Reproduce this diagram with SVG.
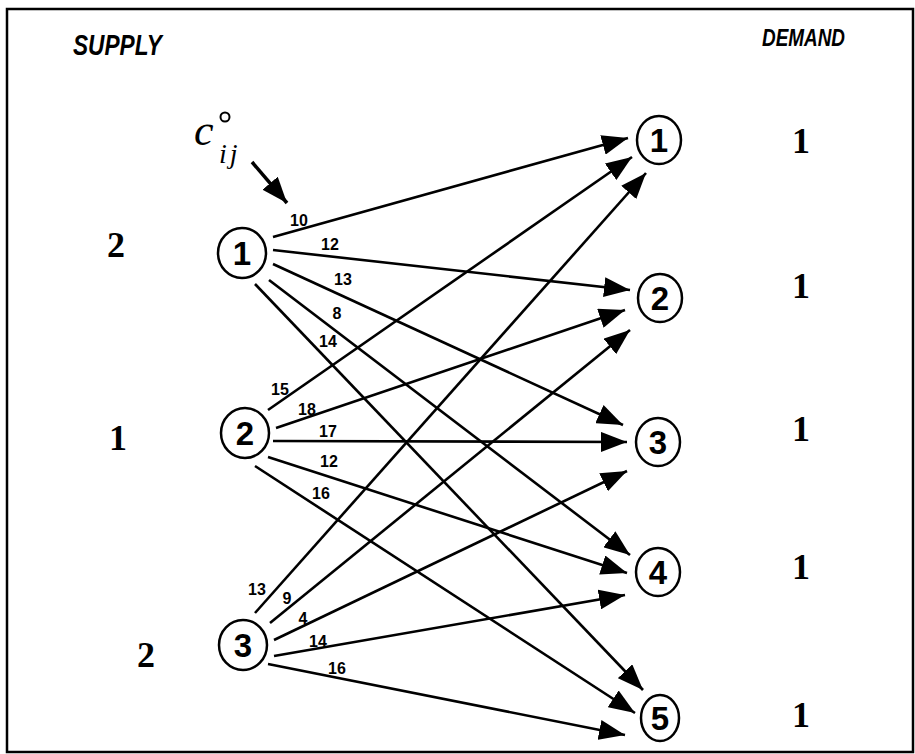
<svg xmlns="http://www.w3.org/2000/svg" width="915" height="754" viewBox="0 0 915 754">
<style>
.node ellipse{fill:#fff;stroke:#000;stroke-width:2.5}
.node text{font-family:"Liberation Sans",Arial,sans-serif;font-weight:bold;font-size:33px;text-anchor:middle}
.edge{stroke:#000;stroke-width:2.6;fill:none;marker-end:url(#ah)}
.lbl{font-family:"Liberation Sans",Arial,sans-serif;font-size:16px;font-weight:bold;text-anchor:middle}
.val{font-family:"Liberation Serif","Times New Roman",serif;font-weight:bold;font-size:36px;text-anchor:middle}
.hdr{font-family:"Liberation Sans",Arial,sans-serif;font-weight:bold;font-style:italic}
.note{font-family:"Liberation Serif","Times New Roman",serif;font-style:italic}
</style>
<defs>
<marker id="ah" markerUnits="userSpaceOnUse" viewBox="0 0 26 20" refX="26" refY="10" markerWidth="26" markerHeight="20" orient="auto">
<path d="M0,0 L26,10 L0,20 Z" fill="#000"/>
</marker>
</defs>
<rect x="0" y="0" width="915" height="754" fill="#fff"/>
<rect x="7" y="9" width="906" height="743" fill="none" stroke="#000" stroke-width="2.5"/>
<text class="hdr" x="73" y="55" font-size="29" textLength="89" lengthAdjust="spacingAndGlyphs">SUPPLY</text>
<text class="hdr" x="762" y="46" font-size="23" textLength="83" lengthAdjust="spacingAndGlyphs">DEMAND</text>
<g id="supply-values">
<text class="val" x="116" y="257">2</text>
<text class="val" x="118" y="450">1</text>
<text class="val" x="146" y="667">2</text>
</g>
<g id="demand-values">
<text class="val" x="801" y="153">1</text>
<text class="val" x="801" y="298">1</text>
<text class="val" x="801" y="441">1</text>
<text class="val" x="801" y="579">1</text>
<text class="val" x="801" y="727">1</text>
</g>
<g id="cost-note">
<text class="note" font-size="44" x="194" y="145">c</text>
<circle cx="225" cy="117" r="4.5" fill="none" stroke="#000" stroke-width="2"/>
<text class="note" font-size="28" x="219" y="163" letter-spacing="3">ij</text>
<line x1="252" y1="162" x2="287" y2="203" stroke="#000" stroke-width="3.5" marker-end="url(#ah)"/>
</g>
<g id="connectors">
<line class="edge" x1="273" y1="237" x2="628" y2="138"/>
<line class="edge" x1="273" y1="250" x2="630" y2="290"/>
<line class="edge" x1="273" y1="264" x2="623" y2="425"/>
<line class="edge" x1="269" y1="280" x2="630" y2="555"/>
<line class="edge" x1="255" y1="284" x2="643" y2="690"/>
<line class="edge" x1="268" y1="410" x2="632" y2="157"/>
<line class="edge" x1="276" y1="428" x2="625" y2="310"/>
<line class="edge" x1="273" y1="441" x2="627" y2="442"/>
<line class="edge" x1="268" y1="457" x2="627" y2="573"/>
<line class="edge" x1="255" y1="466" x2="635" y2="713"/>
<line class="edge" x1="255" y1="613" x2="646" y2="173"/>
<line class="edge" x1="270" y1="623" x2="630" y2="330"/>
<line class="edge" x1="274" y1="640" x2="627" y2="471"/>
<line class="edge" x1="274" y1="656" x2="625" y2="595"/>
<line class="edge" x1="268" y1="664" x2="625" y2="735"/>
<text class="lbl" x="299" y="226">10</text>
<text class="lbl" x="330" y="250">12</text>
<text class="lbl" x="343" y="285">13</text>
<text class="lbl" x="337" y="319">8</text>
<text class="lbl" x="328" y="347">14</text>
<text class="lbl" x="280" y="395">15</text>
<text class="lbl" x="307" y="415">18</text>
<text class="lbl" x="328" y="437">17</text>
<text class="lbl" x="329" y="467">12</text>
<text class="lbl" x="321" y="499">16</text>
<text class="lbl" x="257" y="595">13</text>
<text class="lbl" x="287" y="604">9</text>
<text class="lbl" x="303" y="624">4</text>
<text class="lbl" x="318" y="647">14</text>
<text class="lbl" x="337" y="674">16</text>
</g>
<g id="s1" class="node"><ellipse cx="242" cy="253" rx="24" ry="25"/><text x="242" y="265">1</text></g>
<g id="s2" class="node"><ellipse cx="245" cy="433" rx="24" ry="25"/><text x="245" y="445">2</text></g>
<g id="s3" class="node"><ellipse cx="243" cy="645" rx="24" ry="25"/><text x="243" y="657">3</text></g>
<g id="d1" class="node"><ellipse cx="659" cy="140" rx="22" ry="24"/><text x="659" y="152">1</text></g>
<g id="d2" class="node"><ellipse cx="660" cy="298" rx="22" ry="24"/><text x="660" y="310">2</text></g>
<g id="d3" class="node"><ellipse cx="658" cy="442" rx="22" ry="24"/><text x="658" y="454">3</text></g>
<g id="d4" class="node"><ellipse cx="658" cy="572" rx="22" ry="24"/><text x="658" y="584">4</text></g>
<g id="d5" class="node"><ellipse cx="660" cy="718" rx="19" ry="23"/><text x="660" y="730">5</text></g>
</svg>
